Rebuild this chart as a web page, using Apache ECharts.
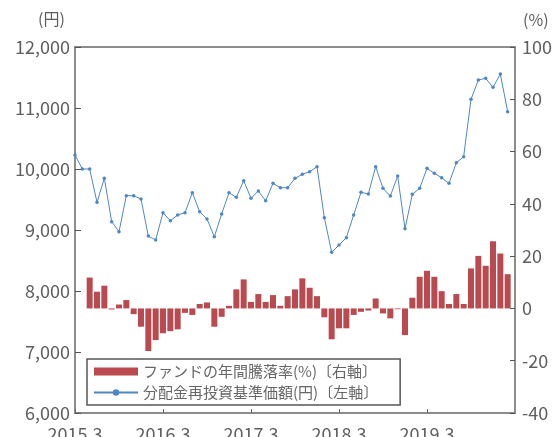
<!DOCTYPE html>
<html><head><meta charset="utf-8">
<script src="https://cdn.jsdelivr.net/npm/echarts@6/dist/echarts.min.js"></script>
<style>html,body{margin:0;padding:0;background:#fff}#c{width:556px;height:437px}</style>
</head><body><div id="c"></div>
<script>
const categories = [
 '2015.3','2015.4','2015.5','2015.6','2015.7','2015.8','2015.9','2015.10','2015.11','2015.12','2016.1','2016.2',
 '2016.3','2016.4','2016.5','2016.6','2016.7','2016.8','2016.9','2016.10','2016.11','2016.12','2017.1','2017.2',
 '2017.3','2017.4','2017.5','2017.6','2017.7','2017.8','2017.9','2017.10','2017.11','2017.12','2018.1','2018.2',
 '2018.3','2018.4','2018.5','2018.6','2018.7','2018.8','2018.9','2018.10','2018.11','2018.12','2019.1','2019.2',
 '2019.3','2019.4','2019.5','2019.6','2019.7','2019.8','2019.9','2019.10','2019.11','2019.12','2020.1','2020.2',
 '2020.3'
];
const tickLabels = ['2015.3','2016.3','2017.3','2018.3','2019.3'];
const fundReturn = [
 null, null, 11.8, 6.4, 8.7, -0.4, 1.5, 3.2, -2.2, -7, -16.3, -12.1,
 -9.5, -8.7, -8, -1.7, -2.5, 1.7, 2.3, -7, -3.2, 1.0, 7.3, 11.1,
 2.5, 5.5, 2.5, 5.1, 1.0, 4.7, 7.3, 11.5, 7.9, 4.7, -3.4, -11.8,
 -7.6, -7.6, -2.5, -1.3, -0.8, 3.8, -1.9, -3.8, -0.3, -10.2, 4.1, 12.1,
 14.4, 12.1, 6.6, 1.7, 5.5, 1.7, 15.3, 20.1, 16.3, 25.7, 21, 13.1
];
const navReinvested = [
 10230, 10000, 10000, 9454, 9850, 9137, 8972, 9562, 9562, 9508, 8900, 8836,
 9284, 9152, 9246, 9284, 9611, 9300, 9180, 8890, 9262, 9611, 9536, 9808,
 9520, 9639, 9480, 9765, 9693, 9693, 9848, 9913, 9956, 10038, 9202, 8634,
 8754, 8874, 9246, 9618, 9590, 10038, 9683, 9557, 9885, 9020, 9585, 9683,
 10011, 9929, 9857, 9765, 10103, 10202, 11143, 11459, 11487, 11339, 11557, 10940
];
const leftTitle = '(円)';
const rightTitle = '(%)';
const barName = 'ファンドの年間騰落率(%)〔右軸〕';
const lineName = '分配金再投資基準価額(円)〔左軸〕';

const FONT = '"Noto Sans CJK JP", "Noto Sans", sans-serif';
const TXT = '#5e5e5e';
const AX = '#8c8c8c';
const chart = echarts.init(document.getElementById('c'), null, {renderer: 'canvas'});
const showIdx = (i) => tickLabels.indexOf(categories[i]) >= 0;
chart.setOption({
  animation: false,
  textStyle: {fontFamily: FONT},
  grid: {left: 75, right: 41, top: 47, bottom: 24, containLabel: false, outerBoundsMode: 'none',
         show: true, borderColor: AX, borderWidth: 2, backgroundColor: 'transparent'},
  graphic: [
    {type: 'text', left: 38, top: 11, style: {text: leftTitle, font: '16px ' + FONT, fill: TXT}},
    {type: 'text', left: 523, top: 12, style: {text: rightTitle, font: '16px ' + FONT, fill: TXT}}
  ],
  legend: {
    orient: 'vertical', left: 87, top: 359,
    padding: [5, 22, 5, 6], itemGap: 6,
    borderColor: '#555', borderWidth: 1.5, backgroundColor: '#fff',
    itemWidth: 44, itemHeight: 8,
    textStyle: {fontFamily: FONT, fontSize: 15, color: '#666'},
    data: [{name: barName, icon: 'rect'}, {name: lineName}]
  },
  xAxis: {
    type: 'category', data: categories, boundaryGap: false,
    axisLine: {onZero: false, lineStyle: {color: AX, width: 2}},
    axisTick: {inside: true, length: 4, interval: showIdx, lineStyle: {color: '#666'}},
    axisLabel: {interval: showIdx, fontSize: 18, color: TXT, margin: 12, fontFamily: FONT},
    splitLine: {show: false}
  },
  yAxis: [
    {type: 'value', min: 6000, max: 12000, interval: 1000, position: 'left',
     axisLine: {show: true, onZero: false, lineStyle: {color: AX, width: 2}},
     axisTick: {show: true, inside: true, length: 6, lineStyle: {color: '#555'}},
     axisLabel: {fontSize: 18, color: TXT, margin: 5, fontFamily: FONT,
       formatter: v => v.toLocaleString('en-US')},
     splitLine: {show: false}},
    {type: 'value', min: -40, max: 100, interval: 20, position: 'right',
     axisLine: {show: true, onZero: false, lineStyle: {color: AX, width: 2}},
     axisTick: {show: true, inside: true, length: 5, lineStyle: {color: '#555'}},
     axisLabel: {fontSize: 18, color: TXT, margin: 7, fontFamily: FONT},
     splitLine: {show: false}}
  ],
  series: [
    {name: barName, type: 'bar', yAxisIndex: 1, data: fundReturn, barWidth: 6,
     itemStyle: {color: '#bb4a50'}},
    {name: lineName, type: 'line', yAxisIndex: 0, data: navReinvested,
     symbol: 'circle', symbolSize: 3.5, showAllSymbol: true,
     lineStyle: {color: '#4f86c6', width: 1}, itemStyle: {color: '#4f86c6'}}
  ]
});
</script></body></html>
